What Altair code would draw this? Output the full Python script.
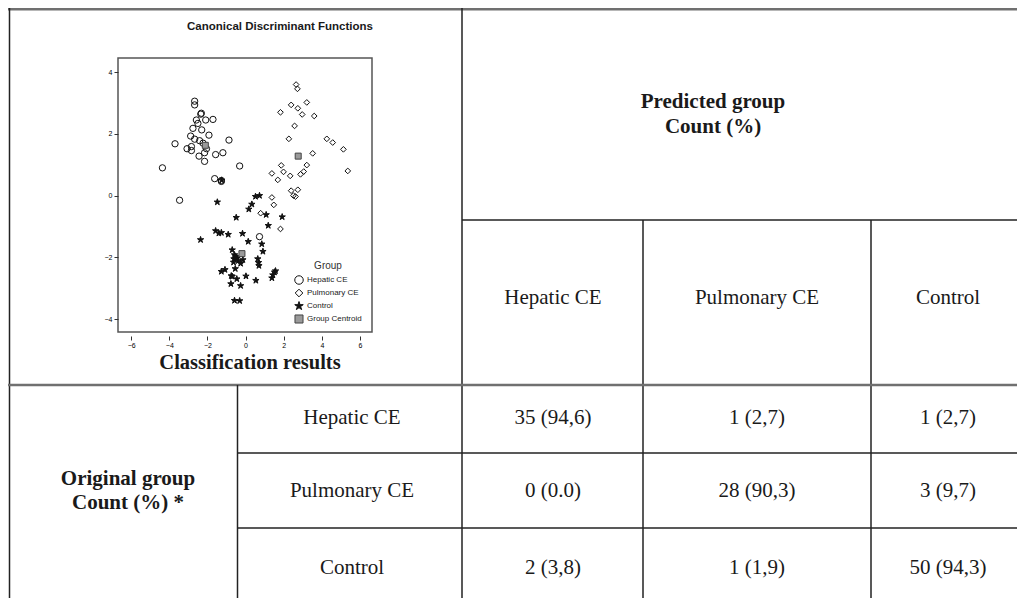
import altair as alt
import pandas as pd

# ---------------- scatter data (discriminant function scores) ----------------
hepatic_x = [-2.67, -2.67, -2.32, -2.35, -2.58, -2.09, -1.71, -2.50, -2.76, -2.30,
             -1.92, -0.87, -2.88, -2.67, -2.41, -3.70, -3.07, -2.84, -2.84, -2.44,
             -2.15, -1.57, -1.19, -2.15, -4.36, -0.31, -1.62, -1.27, -3.46, 0.73,
             -2.23, -2.05, -1.27]
hepatic_y = [3.06, 2.94, 2.67, 2.64, 2.45, 2.45, 2.47, 2.34, 2.18, 2.13,
             1.96, 1.80, 1.93, 1.83, 1.78, 1.68, 1.52, 1.59, 1.46, 1.28,
             1.39, 1.33, 1.39, 1.11, 0.90, 0.96, 0.55, 0.49, -0.15, -1.33,
             1.70, 1.52, 0.46]

pulmonary_x = [2.65, 2.72, 2.39, 2.74, 3.21, 2.97, 1.83, 3.60, 2.57, 2.27,
               4.26, 4.57, 5.13, 3.52, 5.36, 3.21, 1.87, 1.99, 1.38, 2.34,
               1.69, 2.88, 3.05, 2.39, 2.74, 2.51, 2.62, 1.38, 1.48, 0.79, 1.83]
pulmonary_y = [3.60, 3.46, 2.94, 2.83, 3.02, 2.63, 2.70, 2.58, 2.26, 1.84,
               1.84, 1.72, 1.50, 1.37, 0.80, 0.99, 0.98, 0.77, 0.72, 0.64,
               0.51, 0.69, 0.78, 0.16, 0.19, 0.00, -0.03, -0.06, -0.30, -0.57, -1.08]

control_x = [-1.48, 0.52, 0.73, 0.33, 0.17, -0.49, 1.08, 1.92, 1.19, -1.57,
             -1.40, -1.27, -0.91, -0.16, -2.36, 0.14, 0.85, 0.91, -0.70, -0.58,
             -0.49, -0.61, -0.38, -0.26, -0.14, 0.64, 0.68, 0.70, -1.27, -1.08,
             -0.54, -0.75, -0.46, 0.02, 0.54, -0.77, -0.26, 1.38, 1.43, 1.52,
             1.57, -0.58, -0.31, -0.63, -0.70, -1.25, -0.52, -0.45]
control_y = [-0.21, -0.03, 0.00, -0.28, -0.44, -0.71, -0.62, -0.69, -0.97, -1.14,
             -1.22, -1.20, -1.26, -1.23, -1.43, -1.49, -1.57, -1.81, -1.76, -1.92,
             -2.03, -2.05, -2.11, -2.20, -2.08, -2.05, -2.17, -2.27, -2.46, -2.40,
             -2.37, -2.60, -2.70, -2.61, -2.75, -2.86, -2.92, -2.67, -2.57, -2.48,
             -2.44, -3.40, -3.41, -2.16, -2.62, 0.50, -1.98, -2.02]

centroid_x = [-2.11, 2.76, -0.19]
centroid_y = [1.63, 1.28, -1.88]

groups = ["Hepatic CE", "Pulmonary CE", "Control", "Group Centroid"]

# ---------------- classification table ----------------
predicted_groups = ["Hepatic CE", "Pulmonary CE", "Control"]
original_groups = ["Hepatic CE", "Pulmonary CE", "Control"]
counts = [[35, 1, 1], [0, 28, 3], [2, 1, 50]]
percents = [["94,6", "2,7", "2,7"], ["0.0", "90,3", "9,7"], ["3,8", "1,9", "94,3"]]

# ---------------- build scatter frame ----------------
rows = []
for gx, gy, g in [(hepatic_x, hepatic_y, groups[0]),
                  (pulmonary_x, pulmonary_y, groups[1]),
                  (control_x, control_y, groups[2])]:
    for a, b in zip(gx, gy):
        rows.append({"f1": a, "f2": b, "group": g})
for a, b in zip(centroid_x, centroid_y):
    rows.append({"f1": a, "f2": b, "group": groups[3]})
df = pd.DataFrame(rows)

STAR = ("M0,-1.05L0.24,-0.32L1,-0.32L0.38,0.12L0.62,0.85L0,0.4"
        "L-0.62,0.85L-0.38,0.12L-1,-0.32L-0.24,-0.32Z")
DIAMOND = "M0,-0.9L0.9,0L0,0.9L-0.9,0Z"
SQUARE = "M-0.95,-0.95L0.95,-0.95L0.95,0.95L-0.95,0.95Z"

# page -> view coordinates (view = scatter frame at page 118,58)
OX, OY = 118, 58
def X(p):
    return p - OX
def Y(p):
    return p - OY

legend = alt.Legend(title="Group", orient="none", legendX=X(294), legendY=Y(261),
                    titleFontSize=10, titleFontWeight="normal", titleFont="Liberation Sans",
                    titleColor="#333", titleAnchor="middle", titlePadding=4,
                    labelFont="Liberation Sans", labelFontSize=8, labelColor="#222",
                    labelOffset=3, symbolSize=72, rowPadding=0, symbolStrokeWidth=1,
                    padding=0)

scatter = alt.Chart(df).mark_point(opacity=1, strokeWidth=1, size=40).encode(
    x=alt.X("f1:Q", scale=alt.Scale(domain=[-6.69, 6.63], nice=False, zero=False),
            axis=alt.Axis(values=[-6, -4, -2, 0, 2, 4, 6], title=None, grid=False,
                          domain=False, tickSize=4, offset=4, labelFontSize=7,
                          labelPadding=1, tickColor="#333", labelColor="#000",
                          labelFont="Liberation Sans")),
    y=alt.Y("f2:Q", scale=alt.Scale(domain=[-4.42, 4.46], nice=False, zero=False),
            axis=alt.Axis(values=[-4, -2, 0, 2, 4], title=None, grid=False,
                          domain=False, tickSize=4, labelFontSize=7, labelPadding=2,
                          tickColor="#333", labelColor="#000",
                          labelFont="Liberation Sans")),
    shape=alt.Shape("group:N", scale=alt.Scale(domain=groups,
                    range=["circle", DIAMOND, STAR, SQUARE]), legend=legend),
    fill=alt.Fill("group:N", scale=alt.Scale(domain=groups,
                  range=["transparent", "transparent", "#111", "#9a9a9a"]), legend=legend),
    stroke=alt.Stroke("group:N", scale=alt.Scale(domain=groups,
                      range=["#111", "#111", "#111", "#444"]), legend=legend),
)

one = pd.DataFrame({"k": [0]})

def hline(x1, x2, y, color="#222", w=1.5):
    return alt.Chart(one).mark_rule(color=color, strokeWidth=w).encode(
        x=alt.value(X(x1)), x2=alt.value(X(x2)), y=alt.value(Y(y)))

def vline(x, y1, y2, color="#222", w=1.5):
    return alt.Chart(one).mark_rule(color=color, strokeWidth=w).encode(
        x=alt.value(X(x)), y=alt.value(Y(y1)), y2=alt.value(Y(y2)))

def txt(s, x, y, size=21, weight="normal", font="Liberation Serif"):
    return alt.Chart(one).mark_text(text=s, fontSize=size, fontWeight=weight, font=font,
                                    align="center", baseline="middle",
                                    color="#1a1a1a").encode(
        x=alt.value(X(x)), y=alt.value(Y(y)))

RIGHT, BOTTOM = 1017, 598
GRAY = "#707070"
lines = [
    hline(8, RIGHT, 9.3, GRAY, 2.5),
    vline(9.5, 8, BOTTOM),
    vline(462, 8, BOTTOM),
    hline(462, RIGHT, 220),
    vline(643, 220, BOTTOM),
    vline(871, 220, BOTTOM),
    hline(8, RIGHT, 385, GRAY, 2.5),
    vline(237.5, 385, BOTTOM),
    hline(237.5, RIGHT, 453),
    hline(237.5, RIGHT, 528),
]

col_cx = [553, 757, 948]
row_cy = [418, 491, 568]

texts = [
    txt("Canonical Discriminant Functions", 280, 27, size=11.5, weight="bold",
        font="Liberation Sans"),
    txt("Classification results", 250, 363, size=20.5, weight="bold"),
    txt("Predicted group", 713, 102, weight="bold"),
    txt("Count (%)", 713, 127, weight="bold"),
    txt("Original group", 128, 479, weight="bold"),
    txt("Count (%) *", 128, 503, weight="bold"),
]
for j, g in enumerate(predicted_groups):
    texts.append(txt(g, col_cx[j], 298))
for i, g in enumerate(original_groups):
    texts.append(txt(g, 352, row_cy[i]))
    for j in range(3):
        texts.append(txt(f"{counts[i][j]} ({percents[i][j]})", col_cx[j], row_cy[i]))

chart = alt.layer(*lines, scatter, *texts).properties(
    width=254, height=274,
    padding={"left": 110, "top": 50, "right": 645, "bottom": 266},
    autosize=alt.AutoSizeParams(type="none"),
    background="white",
).configure_view(stroke="#555", strokeWidth=1.5)

chart.save("out.html", embed_options={"renderer": "svg", "actions": False})
